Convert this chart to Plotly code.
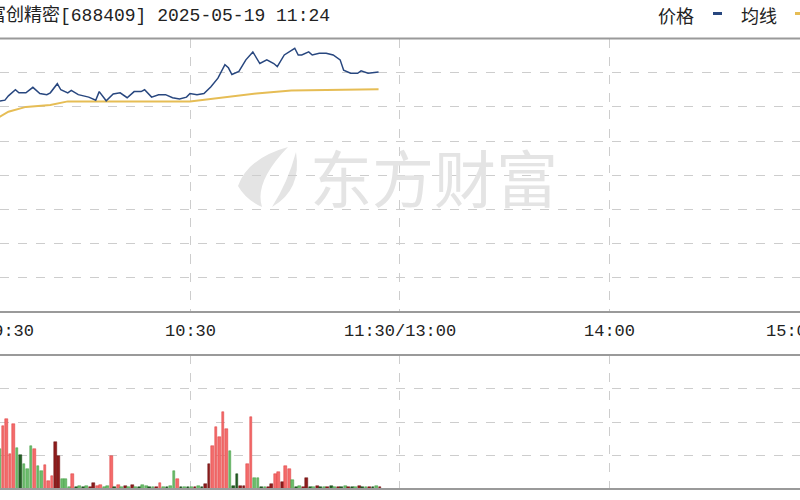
import plotly.graph_objects as go

# ---------------- data ----------------
title_text = "富创精密[688409] 2025-05-19 11:24"
legend_price = "价格"
legend_avg = "均线"
watermark = "东方财富"

# minutes after 09:30 (morning session 0..120, 13:00 = 120, 15:00 = 240)
price_minute = [0, 2, 4, 6, 7, 8, 10, 11, 13, 15, 17, 19, 20, 22, 23, 25, 26, 28, 31, 33,
                34, 36, 38, 40, 42, 44, 46, 47, 49, 51, 53, 55, 57, 59, 60, 62, 64, 66, 68, 70,
                71, 72, 74, 76, 78, 80, 82, 84, 85, 87, 89, 90, 91, 92, 94, 95, 97, 99, 101, 103,
                104, 106, 108, 109, 111, 114]
price = [57.14, 57.19, 57.20, 57.22, 57.23, 57.30, 57.40, 57.35, 57.35, 57.44, 57.34, 57.32, 57.35, 57.50, 57.40, 57.35, 57.39, 57.32, 57.28, 57.23,
         57.37, 57.22, 57.33, 57.35, 57.27, 57.37, 57.37, 57.40, 57.28, 57.32, 57.32, 57.27, 57.25, 57.28, 57.34, 57.32, 57.34, 57.45, 57.59, 57.81,
         57.76, 57.65, 57.70, 57.89, 58.02, 57.83, 57.89, 57.83, 57.78, 57.97, 58.05, 58.08, 57.97, 57.97, 58.02, 57.97, 58.00, 58.00, 57.97, 57.89,
         57.72, 57.67, 57.67, 57.71, 57.67, 57.69]

avg_minute = [0, 5, 8, 13, 20, 25, 60, 66, 71, 79, 89, 106, 114]
avg_price = [56.87, 56.94, 57.04, 57.12, 57.15, 57.21, 57.21, 57.25, 57.29, 57.34, 57.39, 57.41, 57.41]

vol_first_minute = 5
volume = [1190, 1880, 2090, 1040, 1940, 1220, 1020, 750, 600, 1280,
          1190, 700, 540, 720, 250, 380, 1400, 1000, 300, 300,
          70, 450, 60, 80, 60, 90, 60, 180, 100, 120,
          70, 90, 1000, 70, 120, 60, 80, 70, 120, 60,
          70, 120, 80, 60, 70, 60, 180, 60, 70, 80,
          540, 300, 70, 60, 60, 70, 60, 80, 70, 150,
          750, 1290, 1850, 1560, 2290, 1790, 1130, 80, 450, 90,
          100, 750, 2150, 330, 330, 60, 70, 60, 150, 450,
          500, 200, 700, 600, 270, 70, 80, 60, 330, 70,
          60, 80, 70, 60, 70, 80, 60, 70, 60, 80,
          70, 60, 70, 80, 60, 70, 60, 70, 80, 60]
vol_dir = list("grrrrgkgggrggrrrddgg"
               "grkgkgddrr"
               "ggrkrgdgdg"
               "kggkgdrgkg"
               "grkgkgdgkd"
               "drrrrrgkkd"
               "drrggkgddr"
               "rdrrgkgdd"
               "kgdkgdkgdk"
               "gdkgdkgdkgd")

prev_close = 56.00
price_step = 0.56
vol_step = 1000

time_tick_minute = [0, 60, 120, 180, 240]
time_tick_text = ["09:30", "10:30", "11:30/13:00", "14:00", "15:00"]
time_tick_anchor = ["left", "center", "center", "center", "right"]
grid_minutes = [60, 120, 180]

# ---------------- styling ----------------
W, H = 800, 500
PX0, PX_PER_MIN = -19.5, 3.4917          # pixel of 09:30, pixels per minute
x_range = [(0 - PX0) / PX_PER_MIN, (W - PX0) / PX_PER_MIN]

def py(y):  # pixel-from-top -> paper
    return 1 - y / H

def px(x):
    return x / W

def minute_to_paper(m):
    return (m - x_range[0]) / (x_range[1] - x_range[0])

PRICE_TOP, PRICE_BOT = 38.5, 312
VOL_TOP, VOL_BOT = 355, 489
MONO = "Liberation Mono, Noto Sans CJK SC, monospace"
CJK = "Noto Sans CJK SC, sans-serif"

colors_fill = {"r": "#f46b6b", "g": "#6cbd6c", "d": "#8e1c1c", "k": "#235f23"}
colors_line = {"r": "#dc3a3a", "g": "#3f9b3f", "d": "#6a1010", "k": "#164016"}

vol_minute = [vol_first_minute + i for i in range(len(volume))]
dirs = vol_dir[:len(volume)]

fig = go.Figure()

fig.add_trace(go.Scatter(x=avg_minute, y=avg_price, mode="lines",
                         line=dict(color="#e6bd55", width=2), xaxis="x", yaxis="y",
                         hoverinfo="skip", showlegend=False))
fig.add_trace(go.Scatter(x=price_minute, y=price, mode="lines",
                         line=dict(color="#28477f", width=1.5), xaxis="x", yaxis="y",
                         showlegend=False))
fig.add_trace(go.Bar(x=vol_minute, y=volume, width=0.78, offset=0.05,
                     marker=dict(color=[colors_fill[d] for d in dirs],
                                 line=dict(color=[colors_line[d] for d in dirs], width=0.5)),
                     xaxis="x2", yaxis="y2", showlegend=False))

grid_col = "#cdcdcd"
fig.update_layout(
    width=W, height=H, margin=dict(l=0, r=0, t=0, b=0),
    paper_bgcolor="white", plot_bgcolor="white", bargap=0,
    xaxis=dict(domain=[0, 1], range=x_range, tickvals=grid_minutes, showticklabels=False,
               showgrid=True, gridcolor=grid_col, griddash="dash", gridwidth=1,
               zeroline=False, showline=False, ticks="", anchor="y"),
    yaxis=dict(domain=[py(PRICE_BOT), py(PRICE_TOP)],
               range=[prev_close - 4 * price_step, prev_close + 4 * price_step],
               tick0=prev_close, dtick=price_step, showticklabels=False,
               showgrid=True, gridcolor=grid_col, griddash="dash", gridwidth=1,
               zeroline=False, showline=False, ticks=""),
    xaxis2=dict(domain=[0, 1], range=x_range, tickvals=grid_minutes, showticklabels=False,
                showgrid=True, gridcolor=grid_col, griddash="dash", gridwidth=1,
                zeroline=False, showline=False, ticks="", anchor="y2"),
    yaxis2=dict(domain=[py(VOL_BOT), py(VOL_TOP)], range=[0, 4 * vol_step],
                tick0=0, dtick=vol_step, showticklabels=False,
                showgrid=True, gridcolor=grid_col, griddash="dash", gridwidth=1,
                zeroline=False, showline=False, ticks="", anchor="x2"),
)

shapes = []
# panel border lines
for yb in [PRICE_TOP, PRICE_BOT, VOL_TOP, VOL_BOT]:
    shapes.append(dict(type="line", xref="paper", yref="paper", x0=0, x1=1,
                       y0=py(yb), y1=py(yb), line=dict(color="#9a9a9a", width=2), layer="above"))

# watermark icon
def path_px(pts):
    s = ""
    for cmd, coords in pts:
        s += cmd + " " + " ".join(f"{px(a):.5f},{py(b):.5f}" for a, b in coords) + " "
    return s + "Z"

shapes.append(dict(type="path", xref="paper", yref="paper", layer="below",
                   path=path_px([("M", [(288, 147)]), ("Q", [(248, 158), (238, 186)]),
                                 ("Q", [(246, 200), (262, 207)]), ("Q", [(254, 182), (288, 147)])]),
                   fillcolor="#e4e4e4", line=dict(width=0)))
shapes.append(dict(type="path", xref="paper", yref="paper", layer="below",
                   path=path_px([("M", [(296, 152)]), ("Q", [(288, 182), (272, 207)]),
                                 ("Q", [(302, 190), (296, 152)])]),
                   fillcolor="#e4e4e4", line=dict(width=0)))

# legend markers
shapes.append(dict(type="line", xref="paper", yref="paper", x0=px(713), x1=px(722),
                   y0=py(13.5), y1=py(13.5), line=dict(color="#28477f", width=3)))
shapes.append(dict(type="line", xref="paper", yref="paper", x0=px(795), x1=px(804),
                   y0=py(13.5), y1=py(13.5), line=dict(color="#e6bd55", width=3)))

annotations = []
annotations.append(dict(text=title_text, xref="paper", yref="paper", x=px(-14), y=py(15),
                        xanchor="left", yanchor="middle", showarrow=False,
                        font=dict(family=MONO, size=18, color="#222222")))
annotations.append(dict(text=legend_price, xref="paper", yref="paper", x=px(656), y=py(15),
                        xanchor="left", yanchor="middle", showarrow=False,
                        font=dict(family=CJK, size=18, color="#222222")))
annotations.append(dict(text=legend_avg, xref="paper", yref="paper", x=px(739), y=py(15),
                        xanchor="left", yanchor="middle", showarrow=False,
                        font=dict(family=CJK, size=18, color="#222222")))
for m, t, a in zip(time_tick_minute, time_tick_text, time_tick_anchor):
    annotations.append(dict(text=t, xref="paper", yref="paper", x=minute_to_paper(m), y=py(331),
                            xanchor=a, yanchor="middle", showarrow=False,
                            font=dict(family=MONO, size=17, color="#222222")))
annotations.append(dict(text=watermark, xref="paper", yref="paper", x=px(434), y=py(176),
                        xanchor="center", yanchor="middle", showarrow=False,
                        font=dict(family=CJK, size=62, color="#e4e4e4")))

fig.update_layout(shapes=shapes, annotations=annotations)
fig.write_html("out.html", config={"displayModeBar": False},
               post_script="document.body.style.margin='0';document.body.style.overflow='hidden';")
